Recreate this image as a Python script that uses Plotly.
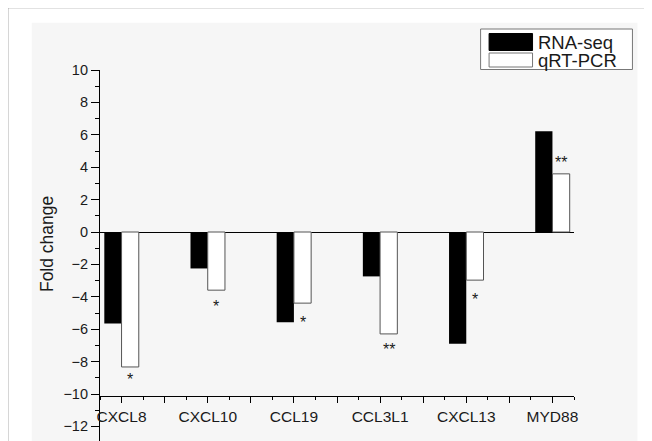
import plotly.graph_objects as go

# ---- data ----
genes = ["CXCL8", "CXCL10", "CCL19", "CCL3L1", "CXCL13", "MYD88"]
rna_seq = [-5.65, -2.25, -5.57, -2.74, -6.9, 6.22]
qrt_pcr = [-8.33, -3.59, -4.39, -6.29, -2.97, 3.59]
sig_labels = ["*", "*", "*", "**", "*", "**"]
sig_y = [-8.93, -4.43, -5.42, -7.09, -4.0, 4.47]
series_names = ["RNA-seq", "qRT-PCR"]
y_ticks = [10, 8, 6, 4, 2, 0, -2, -4, -6, -8, -10, -12]

W, H = 652, 441
OFF = 8  # page body margin offset
# plot area in page pixels: x 100..574.5, y 70..441
L = 100 - OFF
T = 70 - OFF
R = W - (574.5 - OFF)
B = H - (441 - OFF)
PW, PH = W - L - R, H - T - B

def px(x):  # page pixel -> paper x
    return (x - OFF - L) / PW

def py(y):  # page pixel -> paper y
    return (H - B - (y - OFF)) / PH

YMIN, YMAX = -12.9, 10
XMIN, XMAX = -0.25, 5.25
XAXIS_AT = -10.12

xs = list(range(len(genes)))
bw = 0.2

fig = go.Figure()
fig.add_trace(go.Bar(x=xs, y=rna_seq, width=bw, offset=-bw, name=series_names[0],
                     marker=dict(color="black", line=dict(width=0)), showlegend=False))
fig.add_trace(go.Bar(x=xs, y=qrt_pcr, width=bw, offset=0, name=series_names[1],
                     marker=dict(color="white", line=dict(color="#555555", width=1)),
                     showlegend=False))

tickvals, ticktext = [], []
for i, g in enumerate(genes):
    tickvals.append(i); ticktext.append(g)
    if i < len(genes) - 1:
        tickvals.append(i + 0.5); ticktext.append("")

font_fam = "Liberation Sans, Arial, sans-serif"

fig.update_layout(
    width=W, height=H,
    margin=dict(l=L, r=R, t=T, b=B, pad=0),
    paper_bgcolor="white", plot_bgcolor="#f6f6f6",
    barmode="overlay",
    font=dict(family=font_fam, color="#1a1a1a"),
    xaxis=dict(range=[XMIN, XMAX], showgrid=False, zeroline=False,
               showline=True, linecolor="black", linewidth=1.2,
               anchor="free", position=(XAXIS_AT - YMIN) / (YMAX - YMIN),
               tickmode="array", tickvals=tickvals, ticktext=ticktext,
               ticks="outside", ticklen=6, tickwidth=1, tickcolor="black",
               minor=dict(tickmode="linear", tick0=0.25, dtick=0.5, ticks="outside",
                          ticklen=3, tickwidth=1, tickcolor="black"),
               tickfont=dict(size=15.5, family=font_fam, color="#1a1a1a")),
    yaxis=dict(range=[YMIN, YMAX], showgrid=False,
               zeroline=True, zerolinecolor="black", zerolinewidth=1.2,
               showline=True, linecolor="black", linewidth=1.2,
               tickmode="array", tickvals=y_ticks,
               ticks="outside", ticklen=8, tickwidth=1, tickcolor="black",
               minor=dict(tickmode="linear", tick0=1, dtick=2, ticks="outside",
                          ticklen=4, tickwidth=1, tickcolor="black"),
               tickfont=dict(size=14.5, family=font_fam, color="#1a1a1a")),
)

shapes = [
    # gray background panel
    dict(type="rect", xref="paper", yref="paper", layer="below",
         x0=px(31.7), x1=px(638), y0=py(22.7), y1=py(H + 20),
         fillcolor="#f6f6f6", line=dict(width=0)),
    # outer frame
    dict(type="rect", xref="paper", yref="paper", layer="below",
         x0=px(7.5), x1=px(W + 20), y0=py(7.5), y1=py(H + 20),
         fillcolor="rgba(0,0,0,0)", line=dict(color="#8a8a8a", width=1.5)),
    # legend box
    dict(type="rect", xref="paper", yref="paper",
         x0=px(481), x1=px(633), y0=py(29), y1=py(69.5),
         fillcolor="white", line=dict(color="#777777", width=1)),
    dict(type="rect", xref="paper", yref="paper",
         x0=px(489.5), x1=px(533), y0=py(33.5), y1=py(50.5),
         fillcolor="black", line=dict(color="black", width=1)),
    dict(type="rect", xref="paper", yref="paper",
         x0=px(489.5), x1=px(533), y0=py(53), y1=py(67),
         fillcolor="white", line=dict(color="#777777", width=1)),
]

annotations = [
    dict(text=series_names[0], xref="paper", yref="paper", x=px(536), y=py(42),
         xanchor="left", yanchor="middle", showarrow=False,
         font=dict(size=18.5, family=font_fam, color="#1a1a1a")),
    dict(text=series_names[1], xref="paper", yref="paper", x=px(536), y=py(60.5),
         xanchor="left", yanchor="middle", showarrow=False,
         font=dict(size=18.5, family=font_fam, color="#1a1a1a")),
    dict(text="Fold change", xref="paper", yref="paper", x=px(47), y=py(244),
         xanchor="center", yanchor="middle", textangle=-90, showarrow=False,
         font=dict(size=17.5, family=font_fam, color="#1a1a1a")),
]
for i, (lab, yv) in enumerate(zip(sig_labels, sig_y)):
    annotations.append(dict(text=lab, x=i + bw / 2, y=yv, xref="x", yref="y",
                            xanchor="center", yanchor="middle", showarrow=False,
                            yshift=-3,
                            font=dict(size=16, family=font_fam, color="#1a1a1a")))

fig.update_layout(shapes=shapes, annotations=annotations)
fig.write_html("out.html")
